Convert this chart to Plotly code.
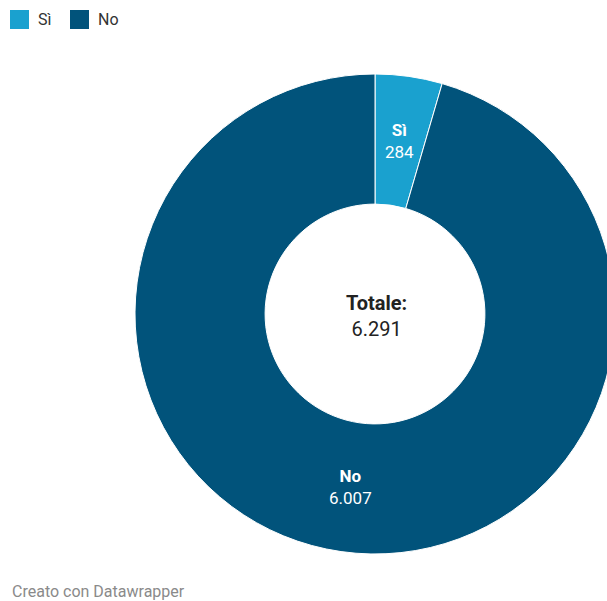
import math
import plotly.graph_objects as go

# Risposte e valori
categories = ["Sì", "No"]
values = [284, 6007]
colors = ["#1aa1cf", "#01537b"]

total = sum(values)

W, H = 630, 601

# Geometria della ciambella (pixel)
cx, cy = 375, 314
r_out = 240
hole = 0.458
r_in = r_out * hole

fig = go.Figure()

fig.add_trace(go.Pie(
    labels=categories,
    values=values,
    hole=hole,
    sort=False,
    direction="clockwise",
    rotation=0,
    marker=dict(colors=colors, line=dict(color="white", width=1)),
    textinfo="none",
    showlegend=False,
    hoverinfo="label+value",
    domain=dict(x=[(cx - r_out) / W, (cx + r_out) / W],
                y=[(H - cy - r_out) / H, (H - cy + r_out) / H]),
))


def fmt(v):
    return f"{v:,}".replace(",", ".")


annotations = []

# Etichette delle fette, al centro di ciascun settore
r_mid = (r_out + r_in) / 2
cum = 0
for cat, v in zip(categories, values):
    ang = 2 * math.pi * (cum + v / 2) / total
    cum += v
    px = cx + r_mid * math.sin(ang)
    py = cy - r_mid * math.cos(ang)
    annotations.append(dict(
        text=f"<b>{cat}</b><br>{fmt(v)}", xref="paper", yref="paper",
        x=px / W, y=(H - py) / H, xanchor="center", yanchor="middle",
        showarrow=False, font=dict(family="Roboto", size=17, color="white")))

# Legenda in alto a sinistra
shapes = []
leg_x = [10, 70]
for i, (cat, col) in enumerate(zip(categories, colors)):
    x0 = leg_x[i]
    shapes.append(dict(type="rect", xref="paper", yref="paper",
                       x0=x0 / W, x1=(x0 + 19) / W,
                       y0=(H - 29) / H, y1=(H - 10) / H,
                       fillcolor=col, line=dict(width=0)))
    annotations.append(dict(text=cat, xref="paper", yref="paper",
                            x=(x0 + 26) / W, y=(H - 19.5) / H,
                            xanchor="left", yanchor="middle", showarrow=False,
                            font=dict(family="Roboto", size=16, color="#333333")))

# Totale al centro
annotations.append(dict(
    text=f"<b>Totale:</b><br>{fmt(total)}",
    xref="paper", yref="paper", x=376 / W, y=(H - 316) / H,
    xanchor="center", yanchor="middle", showarrow=False,
    font=dict(family="Roboto", size=20, color="#222222")))

# Nota in basso
annotations.append(dict(
    text="Creato con Datawrapper", xref="paper", yref="paper",
    x=10 / W, y=(H - 591.5) / H, xanchor="left", yanchor="middle",
    showarrow=False, font=dict(family="Roboto", size=16, color="#8a8a8a")))

fig.update_layout(
    width=W, height=H,
    margin=dict(l=0, r=0, t=0, b=0),
    paper_bgcolor="white",
    plot_bgcolor="white",
    shapes=shapes,
    annotations=annotations,
)

fig.write_html(
    "out.html",
    post_script="document.body.style.margin='0';document.body.style.overflow='hidden';",
)
